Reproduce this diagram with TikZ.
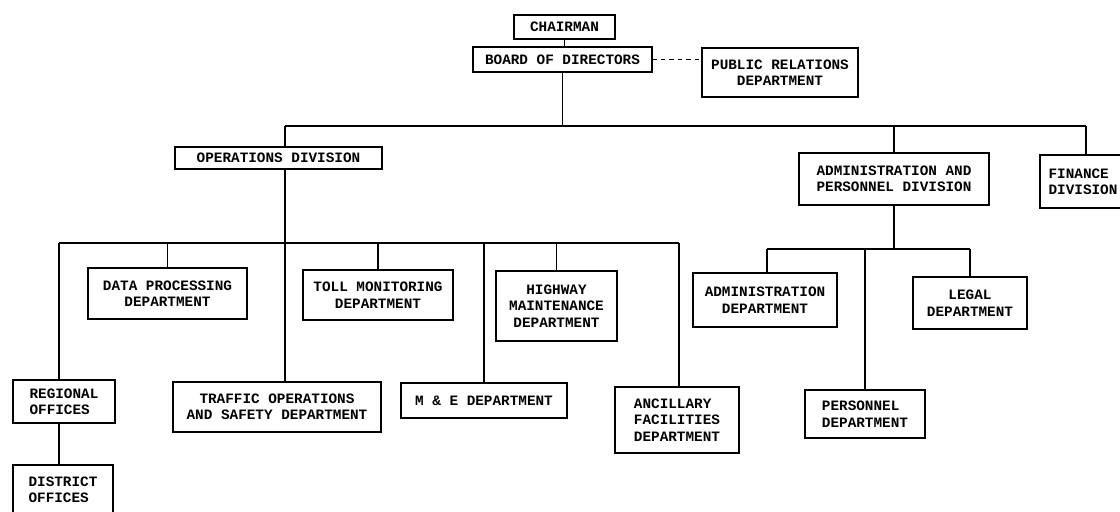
\documentclass[tikz,border=0pt]{standalone}
\usepackage{fontspec}
\setmonofont{Liberation Mono}
\usepackage{tikz}

\begin{document}
\begin{tikzpicture}[x=0.025cm, y=-0.025cm,
    unit/.style={draw, line width=0.8pt, inner sep=2pt, align=center,
        font=\ttfamily\bfseries\fontsize{10.2}{11.7}\selectfont},
    link/.style={line width=0.8pt}]
    \useasboundingbox (0,0) rectangle (1120,512);

    % top management
    \node[unit, minimum width=2.525cm, minimum height=0.6cm] (chair) at (564.5,27) {CHAIRMAN};
    \node[unit, minimum width=4.475cm, minimum height=0.625cm] (board) at (562.5,59.5) {BOARD OF DIRECTORS};
    \node[unit, minimum width=3.9cm, minimum height=1.225cm] (pr) at (780,72.5) {PUBLIC RELATIONS\\DEPARTMENT};

    % divisions
    \node[unit, minimum width=5.175cm, minimum height=0.55cm] (ops) at (278.5,158) {OPERATIONS DIVISION};
    \node[unit, minimum width=4.75cm, minimum height=1.3cm] (adm) at (894,179) {ADMINISTRATION AND\\PERSONNEL DIVISION};
    \node[unit, minimum width=2.15cm, minimum height=1.325cm, align=left] (fin) at (1083,181.5) {FINANCE\\DIVISION};

    % operations departments
    \node[unit, minimum width=3.975cm, minimum height=1.275cm] (data) at (167.5,293.5) {DATA PROCESSING\\DEPARTMENT};
    \node[unit, minimum width=3.75cm, minimum height=1.25cm] (toll) at (378,295) {TOLL MONITORING\\DEPARTMENT};
    \node[unit, minimum width=3.025cm, minimum height=1.75cm] (hwy) at (556.5,306) {HIGHWAY\\MAINTENANCE\\DEPARTMENT};
    \node[unit, minimum width=2.55cm, minimum height=1.075cm, align=left] (reg) at (64,401.5) {REGIONAL\\OFFICES};
    \node[unit, minimum width=2.5cm, minimum height=1.225cm, align=left] (dist) at (63,489.5) {DISTRICT\\OFFICES};
    \node[unit, minimum width=5.2cm, minimum height=1.25cm] (traf) at (277,407) {TRAFFIC OPERATIONS\\AND SAFETY DEPARTMENT};
    \node[unit, minimum width=4.15cm, minimum height=0.875cm] (me) at (484,400.5) {M \& E DEPARTMENT};
    \node[unit, minimum width=3.1cm, minimum height=1.65cm, align=left] (anc) at (677,420) {ANCILLARY\\FACILITIES\\DEPARTMENT};

    % administration departments
    \node[unit, minimum width=3.6cm, minimum height=1.35cm] (admd) at (765,300) {ADMINISTRATION\\DEPARTMENT};
    \node[unit, minimum width=2.85cm, minimum height=1.3cm] (legal) at (970,303) {LEGAL\\DEPARTMENT};
    \node[unit, minimum width=3.0cm, minimum height=1.2cm, align=left] (pers) at (865,414) {PERSONNEL\\DEPARTMENT};

    % top bus
    \coordinate (busL) at (285,126);
    \coordinate (busR) at (1086,126);
    \draw[link] (chair.south) -- (chair.south |- board.north);
    \draw[link, dashed] (board.east) -- (board.east -| pr.west);
    \draw[link] (board.south) -- (board.south |- busL);
    \draw[link] (busL) -- (busR);
    \draw[link] (busL) -- (ops.north -| busL);
    \draw[link] (adm.north) -- (adm.north |- busL);
    \draw[link] (busR) -- (fin.north -| busR);

    % operations bus
    \coordinate (opsL) at (59,243);
    \coordinate (opsR) at (679,243);
    \draw[link] (opsL) -- (opsR);
    \draw[link] (ops.south -| busL) -- (traf.north -| busL);
    \draw[link] (opsL) -- (reg.north -| opsL);
    \draw[link] (opsR) -- (anc.north -| opsR);
    \foreach \n in {data,toll,me,hwy} {
        \draw[link] (\n.north) -- (\n.north |- opsL);
    }
    \draw[link] (reg.south -| opsL) -- (dist.north -| opsL);

    % administration bus
    \coordinate (admL) at (767,249);
    \coordinate (admR) at (970,249);
    \draw[link] (adm.south) -- (adm.south |- admL);
    \draw[link] (admL) -- (admR);
    \draw[link] (admL) -- (admd.north -| admL);
    \draw[link] (admR) -- (legal.north -| admR);
    \draw[link] (pers.north) -- (pers.north |- admL);
\end{tikzpicture}
\end{document}
